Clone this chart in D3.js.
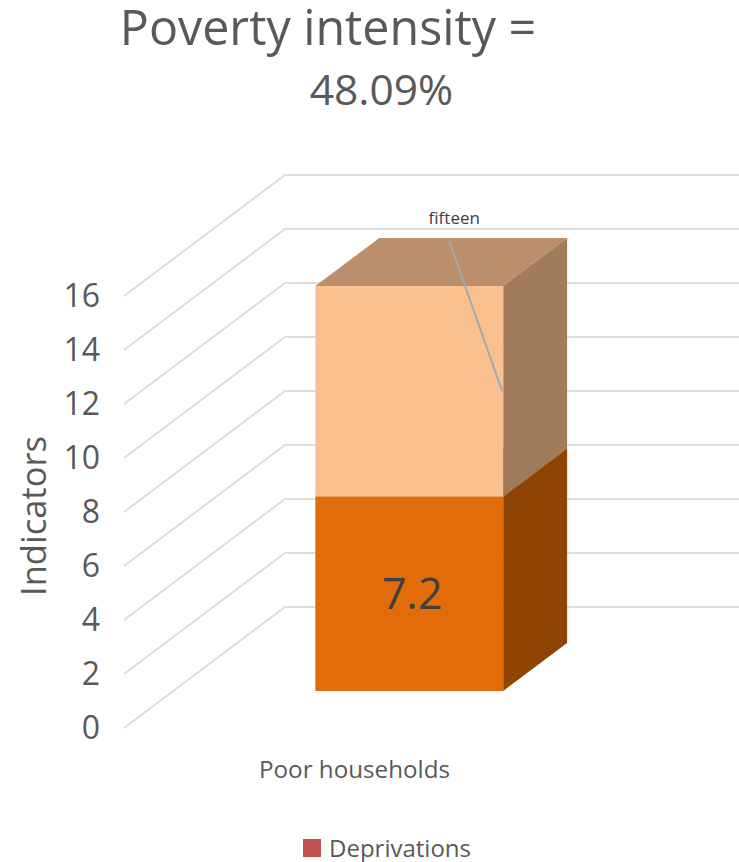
<!DOCTYPE html>
<html>
<head>
<meta charset="utf-8">
<script src="https://cdn.jsdelivr.net/npm/d3@7"></script>
<style>
  html, body { margin: 0; padding: 0; background: #fff; }
  svg { display: block; }
  text { font-family: "Open Sans", sans-serif; fill: #595959; }
</style>
</head>
<body>
<svg id="drawing_region" width="739" height="862"></svg>
<script>
const categories = ["Poor households"];
const tickValues = [0, 2, 4, 6, 8, 10, 12, 14, 16];
const deprivations = [7.2];
const remaining = [7.8];
const segmentLabels = ["7.2", "fifteen"];
const legendLabels = ["Deprivations"];
const titleLines = ["Poverty intensity =", "48.09%"];

const svg = d3.select("#drawing_region");

const y = d3.scaleLinear().domain([0, 16]).range([728, 296]);
const x = d3.scaleBand().domain(categories).range([124, 596]).paddingInner(0.602).paddingOuter(0.301);
// depth runs from the front of the floor (0) to the back wall (1)
const depthX = d3.scaleLinear().domain([0, 1]).range([0, 161]);
const depthY = d3.scaleLinear().domain([0, 1]).range([0, -121]);

const project = (px, value, z) => [px + depthX(z), y(value) + depthY(z)];
const line = d3.line();

// gridlines: floor diagonal + back wall
const grid = svg.append("g");
grid.selectAll("path")
    .data(tickValues)
    .enter()
    .append("path")
    .attr("d", d => line([project(124, d, 0), project(124, d, 1), project(596, d, 1)]))
    .attr("fill", "none")
    .attr("stroke", "#dedede")
    .attr("stroke-width", 2);

// stacked box
const zFront = 0.306;
const zBack = 0.703;
const segments = [
    {from: 0, to: deprivations[0], front: "#e36c0a", side: "#8f4403", top: "#8f4403"},
    {from: deprivations[0], to: deprivations[0] + remaining[0], front: "#fac090", side: "#a07c5a", top: "#bc8f6c"}
];
const left = x(categories[0]);
const right = left + x.bandwidth();

const box = svg.append("g");
segments.forEach(s => {
    const faces = [
        {fill: s.top, pts: [project(left, s.to, zFront), project(right, s.to, zFront), project(right, s.to, zBack), project(left, s.to, zBack)]},
        {fill: s.side, pts: [project(right, s.from, zFront), project(right, s.to, zFront), project(right, s.to, zBack), project(right, s.from, zBack)]},
        {fill: s.front, pts: [project(left, s.from, zFront), project(right, s.from, zFront), project(right, s.to, zFront), project(left, s.to, zFront)]}
    ];
    box.selectAll(null)
        .data(faces)
        .enter()
        .append("path")
        .attr("d", d => line(d.pts) + "Z")
        .attr("fill", d => d.fill);
});

// leader line from the "fifteen" label down to the middle of its segment
const labelX = (left + right) / 2 + depthX(zFront);
svg.append("path")
    .attr("d", line([[labelX + 40, 241], project(right - 1, deprivations[0] + remaining[0] / 2, zFront)]))
    .attr("stroke", "#a3a9ad")
    .attr("stroke-width", 2)
    .attr("fill", "none");

svg.append("text")
    .attr("x", labelX + 45)
    .attr("y", 224)
    .attr("text-anchor", "middle")
    .attr("font-size", 17)
    .style("fill", "#404040")
    .text(segmentLabels[1]);

svg.append("text")
    .attr("x", labelX + 3)
    .attr("y", y(deprivations[0] / 2) + depthY(zFront) + 15)
    .attr("text-anchor", "middle")
    .attr("font-size", 43)
    .style("fill", "#404040")
    .text(segmentLabels[0]);

// y axis labels
svg.append("g")
    .selectAll("text")
    .data(tickValues)
    .enter()
    .append("text")
    .attr("x", 100)
    .attr("y", d => y(d) + 11)
    .attr("text-anchor", "end")
    .attr("font-size", 32)
    .text(d => d);

svg.append("text")
    .attr("transform", "translate(46,516) rotate(-90)")
    .attr("text-anchor", "middle")
    .attr("font-size", 34.5)
    .text("Indicators");

// category label
svg.append("text")
    .attr("x", x(categories[0]) + x.bandwidth() / 2 - 5.5)
    .attr("y", 778)
    .attr("text-anchor", "middle")
    .attr("font-size", 24.2)
    .text(categories[0]);

// title
svg.append("text")
    .attr("x", 328)
    .attr("y", 45)
    .attr("text-anchor", "middle")
    .attr("font-size", 48.4)
    .text(titleLines[0]);
svg.append("text")
    .attr("x", 381.5)
    .attr("y", 105)
    .attr("text-anchor", "middle")
    .attr("font-size", 42.5)
    .text(titleLines[1]);

// legend
svg.append("rect")
    .attr("x", 303)
    .attr("y", 839)
    .attr("width", 18)
    .attr("height", 18)
    .attr("fill", "#c0504d");
svg.append("text")
    .attr("x", 329)
    .attr("y", 857)
    .attr("font-size", 24)
    .text(legendLabels[0]);
</script>
</body>
</html>
